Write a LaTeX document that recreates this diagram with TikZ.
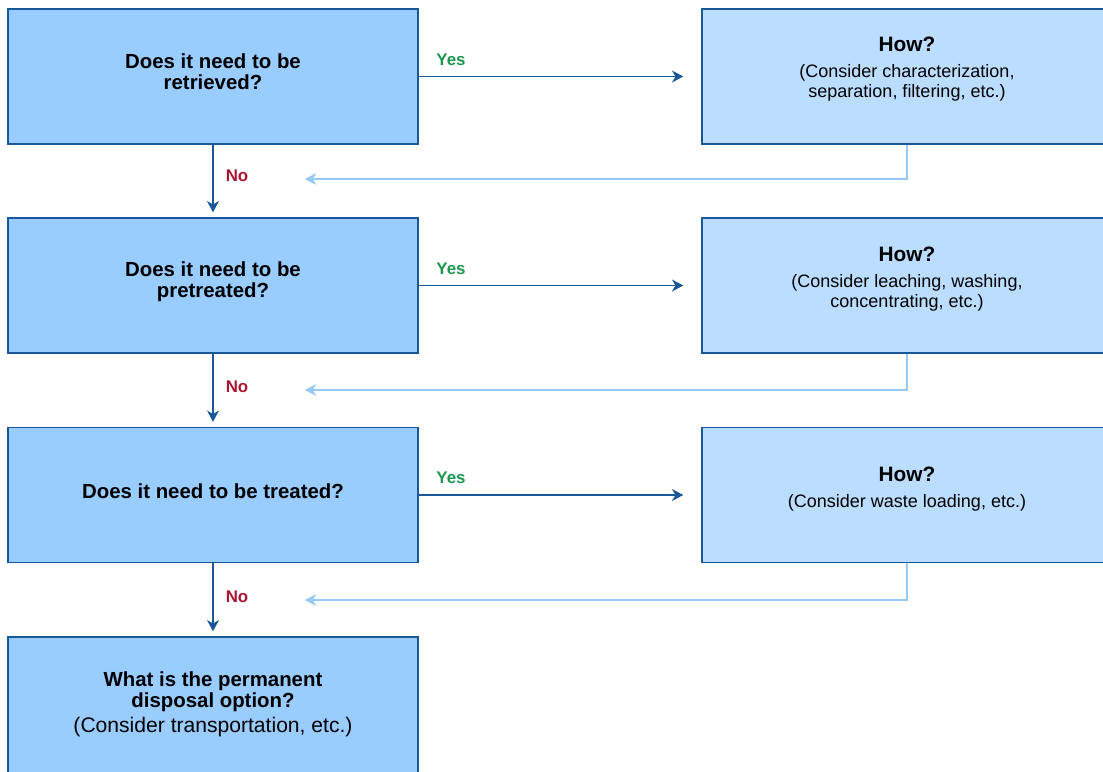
\documentclass[tikz,border=0pt]{standalone}
\usepackage{fontspec}
\setmainfont{Liberation Sans}
\usetikzlibrary{arrows.meta, positioning}

\definecolor{boxblue}{RGB}{153,204,255}
\definecolor{howblue}{RGB}{187,221,255}
\definecolor{edgeblue}{RGB}{24,88,152}
\definecolor{lineblue}{RGB}{150,200,250}
\definecolor{yesgreen}{RGB}{30,150,80}
\definecolor{nored}{RGB}{170,22,50}

\begin{document}
\begin{tikzpicture}[x=0.025cm, y=-0.025cm,
    question/.style={draw=edgeblue, line width=1pt, fill=boxblue, minimum width=10.25cm, minimum height=3.375cm, inner sep=0pt},
    answer/.style={question, fill=howblue},
    asktext/.style={font=\fontsize{14.5}{15}\selectfont\bfseries, align=center},
    howtext/.style={font=\fontsize{12.8}{14.2}\selectfont, align=center},
    flow/.style={-{Stealth[length=8pt, width=8.5pt, inset=2.5pt]}, edgeblue, line width=1pt},
    back/.style={-{Stealth[length=8pt, width=8.5pt, inset=2.5pt]}, lineblue, line width=1pt},
    yeslabel/.style={font=\fontsize{12}{14}\selectfont\bfseries, text=yesgreen},
    nolabel/.style={font=\fontsize{12}{14}\selectfont\bfseries, text=nored}]

    \useasboundingbox (0,0) rectangle (1103,771);
    \clip (0,0) rectangle (1103,771);
    \fill[white] (0,0) rectangle (1103,771);

    % Question boxes on the left
    \node[question] (q1) at (213,76.5) {};
    \node[question] (q2) at (213,285.5) {};
    \node[question] (q3) at (213,495) {};
    \node[question, minimum height=3.5cm] (q4) at (213,707) {};

    % How boxes on the right
    \node[answer] (h1) at (907,76.5) {};
    \node[answer] (h2) at (907,285.5) {};
    \node[answer] (h3) at (907,495) {};

    % Texts of the boxes
    \node[asktext] (t1) at (213,71.5) {Does it need to be\\retrieved?};
    \node[asktext] (t2) at (213,281.5) {Does it need to be\\pretreated?};
    \node[asktext] (t3) at (213,491) {Does it need to be treated?};
    \node[asktext] (t4) at (213,704) {What is the permanent\\disposal option?\\[3pt]
        {\fontsize{15}{16}\selectfont\mdseries (Consider transportation, etc.)}};

    \node[howtext] (w1) at (907,69) {{\fontsize{14.8}{16}\selectfont\bfseries How?}\\[4pt]
        (Consider characterization,\\separation, filtering, etc.)};
    \node[howtext] (w2) at (907,279) {{\fontsize{14.8}{16}\selectfont\bfseries How?}\\[4pt]
        (Consider leaching, washing,\\concentrating, etc.)};
    \node[howtext] (w3) at (907,489) {{\fontsize{14.8}{16}\selectfont\bfseries How?}\\[4pt]
        (Consider waste loading, etc.)};

    % Yes arrows
    \draw[flow, shorten >=0.45cm] (q1.east) -- (q1.east -| h1.west);
    \draw[flow, shorten >=0.45cm] (q2.east) -- (q2.east -| h2.west);
    \draw[flow, shorten >=0.45cm] (q3.east) -- (q3.east -| h3.west);
    \node[yeslabel] (y1) at (451,60) {Yes};
    \node[yeslabel] (y2) at (451,269) {Yes};
    \node[yeslabel] (y3) at (451,478) {Yes};

    % No arrows
    \draw[flow, shorten >=0.125cm] (q1.south) -- (q2.north);
    \draw[flow, shorten >=0.125cm] (q2.south) -- (q3.north);
    \draw[flow, shorten >=0.125cm] (q3.south) -- (q4.north);
    \node[nolabel] (n1) at (237,176) {No};
    \node[nolabel] (n2) at (237,387) {No};
    \node[nolabel] (n3) at (237,597) {No};

    % Return arrows
    \coordinate (r1) at (305,179);
    \coordinate (r2) at (305,390);
    \coordinate (r3) at (305,600);
    \draw[back] (h1.south) |- (r1);
    \draw[back] (h2.south) |- (r2);
    \draw[back] (h3.south) |- (r3);
\end{tikzpicture}
\end{document}
